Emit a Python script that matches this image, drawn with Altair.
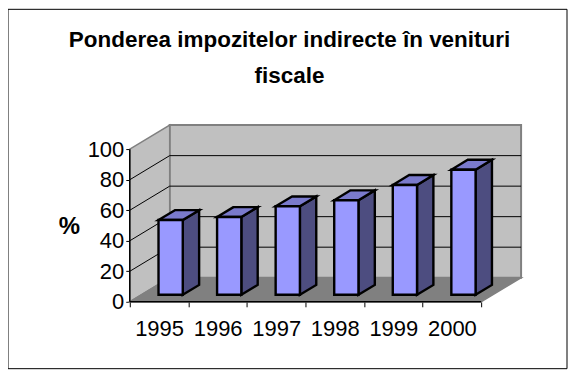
import altair as alt
import pandas as pd

years = ["1995", "1996", "1997", "1998", "1999", "2000"]
values = [49, 51, 58, 62, 72, 82]
y_ticks = [0, 20, 40, 60, 80, 100]
title_lines = ["Ponderea impozitelor indirecte în venituri", "fiscale"]

DX, DY = 0.6815, 15.8      # full-depth shift, in axis units
D1, D2 = 0.29, 0.70        # bar front and back depth
BW = 0.414                 # bar width in category units
NCAT = len(years)
YMAX = 100

WALL, FLOOR, EDGE = "#C0C0C0", "#808080", "#808080"
FRONT, TOP, SIDE = "#9999FF", "#7A7ACC", "#4D4D80"
FONT = "Liberation Sans"

xs = alt.Scale(domain=[0, NCAT + DX], nice=False, zero=False)
ys = alt.Scale(domain=[0, YMAX + DY], nice=False, zero=False)


def X(f="x", **k):
    k.setdefault("axis", None)
    return alt.X(f"{f}:Q", scale=xs, **k)


def Y(f="y", **k):
    k.setdefault("axis", None)
    return alt.Y(f"{f}:Q", scale=ys, stack=None, **k)


# walls and floor
back = pd.DataFrame([dict(x=DX, x2=NCAT + DX, y=DY, y2=YMAX + DY)])
left = pd.DataFrame([dict(x=0, y=0, y2=YMAX), dict(x=DX, y=DY, y2=YMAX + DY)])
floor = pd.DataFrame([dict(y=0, x=0, x2=NCAT), dict(y=DY, x=DX, x2=NCAT + DX)])

back_wall = alt.Chart(back).mark_rect(fill=WALL, stroke=EDGE, strokeWidth=2).encode(
    x=X(), x2="x2:Q", y=Y(), y2="y2:Q")
left_wall = alt.Chart(left).mark_area(fill=WALL, stroke=EDGE, strokeWidth=1.5, interpolate="linear").encode(
    x=X(), y=Y(), y2="y2:Q")
floor_m = alt.Chart(floor).mark_area(fill=FLOOR, stroke=EDGE, strokeWidth=1.5, orient="horizontal", interpolate="linear").encode(
    y=Y(), x=X(), x2="x2:Q")

# grid
grid_vals = [v for v in y_ticks if 0 < v < YMAX]
grid_back = pd.DataFrame([dict(x=DX, x2=NCAT + DX, y=v + DY) for v in grid_vals])
grid_left = pd.DataFrame(
    [r for v in grid_vals for r in (dict(x=0, y=v, g=v), dict(x=DX, y=v + DY, g=v))]
)
g_back = alt.Chart(grid_back).mark_rule(color="black", strokeWidth=1).encode(x=X(), x2="x2:Q", y=Y())
g_left = alt.Chart(grid_left).mark_line(color="black", strokeWidth=1).encode(x=X(), y=Y(), detail="g:N")

# bars
fr, si, to = [], [], []
for i, v in enumerate(values):
    x0 = i + 0.5 - BW / 2
    x1 = i + 0.5 + BW / 2
    fr.append(dict(year=years[i], x=x0 + D1 * DX, x2=x1 + D1 * DX, y=D1 * DY, y2=v + D1 * DY))
    for d in (D1, D2):
        si.append(dict(year=years[i], x=x1 + d * DX, y=d * DY, y2=v + d * DY))
        to.append(dict(year=years[i], y=v + d * DY, x=x0 + d * DX, x2=x1 + d * DX))

bar_front = alt.Chart(pd.DataFrame(fr)).mark_rect(fill=FRONT, stroke="black", strokeWidth=2.4).encode(
    x=X(), x2="x2:Q", y=Y(), y2="y2:Q")
bar_side = alt.Chart(pd.DataFrame(si)).mark_area(fill=SIDE, stroke="black", strokeWidth=2.4, interpolate="linear").encode(
    x=X(), y=Y(), y2="y2:Q", detail="year:N")
bar_top = alt.Chart(pd.DataFrame(to)).mark_area(fill=TOP, stroke="black", strokeWidth=2.4, orient="horizontal", interpolate="linear").encode(
    y=Y(), x=X(), x2="x2:Q", detail="year:N")

# axes
base_line = pd.DataFrame([dict(x=0, x2=NCAT, y=0)])
left_line = pd.DataFrame([dict(x=0, y=0, y2=YMAX)])
year_ticks = list(range(NCAT + 1))
label_pos = [i + 0.5 for i in range(NCAT)]
label_expr = "[" + ",".join(f"'{y}'" for y in years) + "][floor(datum.value)]"

ax_x_ticks = alt.Chart(base_line).mark_rule(color="black", strokeWidth=1.5).encode(
    x=X(axis=alt.Axis(orient="bottom", values=year_ticks, labels=False, domain=False, grid=False, tickColor="black",
                      tickSize=5, tickWidth=1, title=None)),
    x2="x2:Q", y=Y())
ax_x_labels = alt.Chart(base_line).mark_rule(opacity=0).encode(
    x=X(axis=alt.Axis(orient="bottom", values=label_pos, labelExpr=label_expr, ticks=False, domain=False, grid=False,
                      labelFont=FONT, labelFontSize=22, labelColor="black", labelPadding=17,
                      labelAngle=0, labelOverlap=False, labelFlush=False, title=None)),
    x2="x2:Q", y=Y())
ax_y = alt.Chart(left_line).mark_rule(color="black", strokeWidth=1.5).encode(
    x=X(),
    y=Y(axis=alt.Axis(orient="left", values=y_ticks, domain=False, grid=False, tickColor="black", tickSize=4, tickWidth=1,
                      labelFont=FONT, labelFontSize=22, labelColor="black", labelPadding=2,
                      labelOverlap=False, labelFlush=False, format="d",
                      title="%", titleFont=FONT, titleFontSize=24, titleFontWeight="bold",
                      titleAngle=0, titleColor="black", titleX=-61, titleY=102, titleBaseline="middle")),
    y2="y2:Q")

frame = alt.Chart(base_line).mark_rect(filled=False, stroke="black", strokeWidth=1).encode(
    x=alt.value(-122), x2=alt.value(438), y=alt.value(-116), y2=alt.value(244))

chart = alt.layer(
    frame, back_wall, left_wall, floor_m, g_back, g_left,
    bar_side, bar_top, bar_front,
    ax_x_ticks, ax_x_labels, ax_y,
).resolve_axis(x="independent", y="independent").properties(
    width=392,
    height=177,
    autosize=alt.AutoSizeParams(type="none"),
    padding={"left": 122, "top": 117, "right": 47, "bottom": 68},
    background="white",
    title=alt.TitleParams(
        text=title_lines, anchor="middle", dx=-36, dy=79, font=FONT, fontSize=22.5, fontWeight="bold",
        color="black", lineHeight=36, offset=0,
    ),
).configure_view(stroke=None)

chart.save("out.html", embed_options={"renderer": "svg", "actions": False})
